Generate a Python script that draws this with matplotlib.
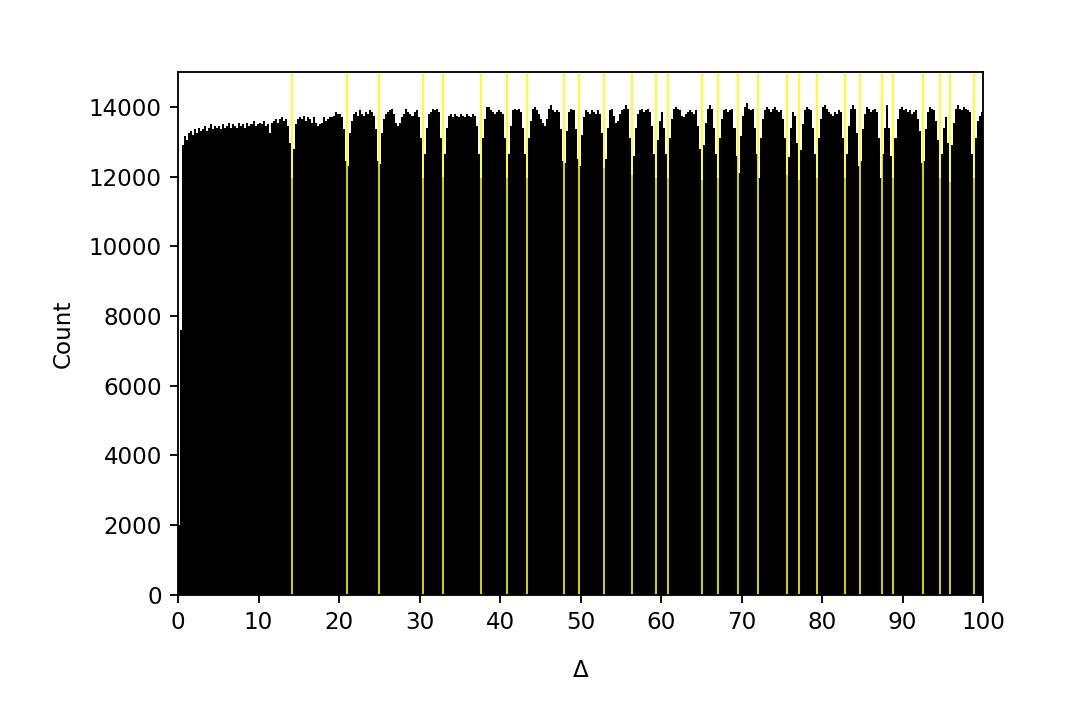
#!/usr/bin/env python
# -*- coding: utf-8 -*-

import numpy
import matplotlib
matplotlib.use("Agg")
import matplotlib.pyplot as plt

# Histogram of Delta, bins of width 0.25 from 0 to 100
bin_width = 0.25
counts = [
    2000, 7600, 12900, 13150, 13050, 13250, 13300, 13200, 13350, 13250,
    13400, 13300, 13350, 13450, 13300, 13400, 13500, 13350, 13450, 13400,
    13450, 13350, 13500, 13400, 13450, 13550, 13400, 13500, 13450, 13400,
    13550, 13450, 13500, 13400, 13550, 13450, 13500, 13600, 13450, 13500,
    13550, 13500, 13600, 13450, 13500, 13250, 13550, 13600, 13650, 13550,
    13650, 13700, 13600, 13650, 13450, 12950, 11950, 12800, 13500, 13650,
    13700, 13650, 13750, 13600, 13700, 13650, 13550, 13700, 13550, 13450,
    13500, 13550, 13700, 13600, 13650, 13700, 13700, 13750, 13850, 13800,
    13800, 13700, 13350, 12450, 12300, 13250, 13600, 13800, 13850, 13750,
    13900, 13800, 13750, 13850, 13800, 13900, 13850, 13750, 13350, 12450,
    12350, 13250, 13650, 13800, 13850, 13900, 13950, 13800, 13550, 13450,
    13550, 13700, 13800, 13950, 13850, 13800, 13750, 13850, 13900, 13700,
    13100, 11950, 12650, 13400, 13800, 13850, 13950, 13900, 13950, 13850,
    13100, 12000, 12650, 13400, 13750, 13800, 13700, 13800, 13750, 13700,
    13800, 13750, 13700, 13800, 13750, 13700, 13800, 13750, 13450, 12650,
    11950, 13100, 13650, 14000, 14000, 13900, 13850, 13800, 13850, 13900,
    13850, 13800, 13100, 11950, 12650, 13450, 13900, 13950, 13900, 13950,
    13850, 13400, 12650, 11950, 13100, 13600, 13950, 14000, 13900, 13800,
    13650, 13550, 13450, 13650, 13950, 14050, 13900, 13850, 13900, 13850,
    13350, 12450, 12400, 13300, 13850, 13950, 13900, 13350, 12500, 12300,
    13200, 13700, 13900, 13850, 13800, 13900, 13850, 13800, 13900, 13800,
    13250, 12250, 12500, 13400, 13900, 13950, 13750, 13550, 13600, 13800,
    13900, 13950, 14050, 13950, 13100, 12050, 12600, 13400, 13800, 13900,
    13950, 13850, 13900, 13950, 13850, 13450, 12650, 11950, 13050, 13600,
    13850, 13400, 12650, 11950, 13100, 13650, 13950, 14000, 13950, 13900,
    13750, 13700, 13800, 13850, 13900, 13850, 13800, 13900, 13450, 12800,
    11900, 12900, 13550, 13950, 14050, 13950, 13400, 12650, 11950, 13100,
    13650, 13900, 13950, 13850, 13900, 13950, 13400, 12600, 12100, 13150,
    13750, 14000, 14100, 13950, 13900, 13950, 13400, 12650, 11950, 13100,
    13650, 13900, 14000, 13950, 13850, 13950, 14000, 13900, 13850, 13900,
    13650, 13100, 12050, 12550, 13400, 13850, 13750, 12950, 11900, 12750,
    13500, 13900, 14000, 13950, 13900, 13400, 12650, 11950, 13100, 13650,
    14000, 14050, 13950, 13850, 13800, 13750, 13850, 13800, 13900, 13850,
    13100, 11950, 12650, 13450, 13950, 14050, 13950, 13250, 12300, 12450,
    13350, 13800, 14000, 13950, 13850, 13900, 13950, 13850, 13100, 11950,
    12650, 13400, 14050, 13400, 12600, 11950, 13100, 13650, 13950, 14000,
    13900, 13950, 13850, 13900, 13800, 13850, 13900, 13650, 13300, 12400,
    12450, 13350, 13850, 14000, 13950, 13900, 13600, 13050, 11950, 12650,
    13400, 13700, 12950, 11850, 12900, 13550, 13950, 14050, 13950, 13900,
    14000, 13950, 13900, 13850, 12650, 11950, 13100, 13600, 13750, 13850,
]

# Imaginary parts of the zeta zeros below 100 (yellow markers)
zeros = [14.1347, 21.0220, 25.0109, 30.4249, 32.9351, 37.5862, 40.9187,
         43.3271, 48.0052, 49.7738, 52.9703, 56.4462, 59.3470, 60.8318,
         65.1125, 67.0798, 69.5464, 72.0672, 75.7047, 77.1448, 79.3374,
         82.9104, 84.7355, 87.4253, 88.8091, 92.4919, 94.6513, 95.8706,
         98.8312]

edges = numpy.arange(len(counts) + 1) * bin_width

fig = plt.figure(figsize=(1083 / 166., 721 / 166.), dpi=166)
ax = fig.add_axes([0.1644, 0.1748, 0.7433, 0.7254])

ax.stairs(counts, edges, fill=True, color="black", linewidth=0)
for z in zeros:
    ax.axvline(z, color="yellow", linewidth=0.7)

ax.set_xlim(0, 100)
ax.set_ylim(0, 15000)
ax.set_xticks(numpy.arange(0, 101, 10))
ax.set_yticks(numpy.arange(0, 14001, 2000))
ax.set_xlabel("Δ", labelpad=11)
ax.set_ylabel("Count", labelpad=6)

fig.savefig("out.png", dpi=166)
